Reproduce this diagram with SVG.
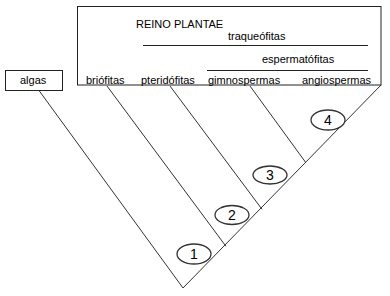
<svg xmlns="http://www.w3.org/2000/svg" width="390" height="296" viewBox="0 0 390 296">
<style>
text{font-family:"Liberation Sans",Arial,sans-serif;font-size:11px;fill:#000}
.num{font-size:14px;text-anchor:middle}
.box{fill:none;stroke:#222;stroke-width:1}
.ln{fill:none;stroke:#333;stroke-width:1}
.ell{fill:#fff;stroke:#333;stroke-width:1.3}
</style>
<rect width="390" height="296" fill="#fff"/>
<g id="reino-plantae">
<rect class="box" x="77.5" y="6.5" width="303.5" height="78.5"/>
<text x="136" y="28">REINO PLANTAE</text>
<text x="228" y="40">traqueófitas</text>
<line class="box" x1="143" y1="45.5" x2="368" y2="45.5"/>
<text x="262" y="63">espermatófitas</text>
<line class="box" x1="207" y1="70.5" x2="368" y2="70.5"/>
</g>
<g id="algas"><rect class="box" x="5.5" y="70.5" width="57" height="20"/><text x="20" y="84">algas</text></g>
<g id="briofitas"><text x="86" y="84">briófitas</text></g>
<g id="pteridofitas"><text x="141" y="84">pteridófitas</text></g>
<g id="gimnospermas"><text x="208" y="84">gimnospermas</text></g>
<g id="angiospermas"><text x="302" y="84">angiospermas</text></g>
<g id="connectors">
<line class="ln" x1="39" y1="90.5" x2="183" y2="288"/>
<line class="ln" x1="183" y1="288" x2="381" y2="85"/>
<line class="ln" x1="107" y1="86" x2="226" y2="246.4"/>
<line class="ln" x1="170" y1="86" x2="262" y2="209.3"/>
<line class="ln" x1="250" y1="86" x2="305.6" y2="162.3"/>
</g>
<g id="n1"><ellipse class="ell" cx="194" cy="254" rx="17" ry="10"/><text class="num" x="194" y="259">1</text></g>
<g id="n2"><ellipse class="ell" cx="232" cy="215" rx="17" ry="9.5"/><text class="num" x="232" y="220">2</text></g>
<g id="n3"><ellipse class="ell" cx="270" cy="175" rx="17" ry="9"/><text class="num" x="270" y="180">3</text></g>
<g id="n4"><ellipse class="ell" cx="328" cy="120" rx="17" ry="10"/><text class="num" x="328" y="125">4</text></g>
</svg>
